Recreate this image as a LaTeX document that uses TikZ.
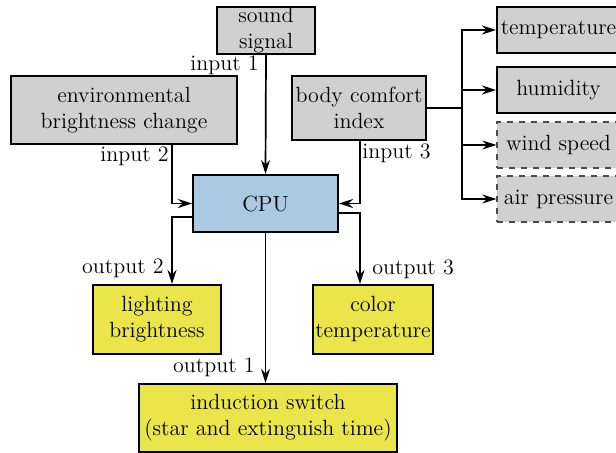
\documentclass[tikz,border=0pt]{standalone}
\usetikzlibrary{arrows.meta}
\definecolor{inbox}{HTML}{D0D0D0}
\definecolor{cpubox}{HTML}{AACAE4}
\definecolor{outbox}{HTML}{EAE54A}
\begin{document}
\begin{tikzpicture}[
    x=0.5pt, y=-0.5pt,
    every node/.style={font=\fontsize{11}{13}\selectfont},
    block/.style={draw, line width=1pt, align=center, inner sep=0pt},
    inblock/.style={block, fill=inbox},
    factor/.style={inblock, minimum width=61.5pt, minimum height=23pt},
    optfactor/.style={factor, draw=black!70, line width=0.6pt, dashed},
    outblock/.style={block, fill=outbox},
    conn/.style={line width=0.85pt, -{Stealth[length=7pt, width=4.5pt]}},
    portlabel/.style={inner sep=0pt},
]
\useasboundingbox (0,0) rectangle (616,453);

% inputs
\node[inblock, minimum width=49pt, minimum height=23.5pt] (sound) at (266,30.5) {sound\\signal};
\node[inblock, minimum width=113pt, minimum height=34pt] (env) at (124,110) {environmental\\brightness change};
\node[inblock, minimum width=67pt, minimum height=32pt] (body) at (359,108) {body comfort\\index};

% processor
\node[block, fill=cpubox, minimum width=72.5pt, minimum height=28.5pt] (cpu) at (265.5,203.5) {CPU};

% outputs
\node[outblock, minimum width=64pt, minimum height=34.5pt] (light) at (157,319.5) {lighting\\brightness};
\node[outblock, minimum width=60pt, minimum height=34.5pt] (color) at (373,319.5) {color\\temperature};
\node[outblock, minimum width=129pt, minimum height=34pt] (switch) at (268,418) {induction switch\\(star and extinguish time)};

% comfort factors
\node[factor] (temp) at (558.5,30) {temperature};
\node[factor] (hum) at (558.5,90) {humidity};
\node[optfactor] (wind) at (558.5,145) {wind speed};
\node[optfactor] (air) at (558.5,199) {air pressure};

% connectors
\draw[conn] (sound.south) -- (cpu.north);
\draw[conn] ([xshift=24pt]env.south) |- (cpu.west);
\draw[conn] ([xshift=0.5pt]body.south) |- (cpu.east);
\draw[conn] (cpu.south) -- (cpu.south |- switch.north);
\draw[conn] ([yshift=-6.75pt]cpu.west) -| ([xshift=7.5pt]light.north);
\draw[conn] ([yshift=-4.75pt]cpu.east) -| ([xshift=-6.5pt]color.north);

\coordinate (fork) at (462,108);
\draw[line width=1pt] (body.east) -- (fork);
\foreach \f in {temp,hum,wind,air} {
    \draw[conn] (fork) |- (\f.west);
}

% port labels
\node[portlabel, anchor=east] (in1) at (259,65) {input 1};
\node[portlabel, anchor=east] (in2) at (169,156) {input 2};
\node[portlabel, anchor=west] (in3) at (362,153) {input 3};
\node[portlabel, anchor=east] (out1) at (255,367) {output 1};
\node[portlabel, anchor=east] (out2) at (164,268) {output 2};
\node[portlabel, anchor=west] (out3) at (372,269) {output 3};
\end{tikzpicture}
\end{document}
